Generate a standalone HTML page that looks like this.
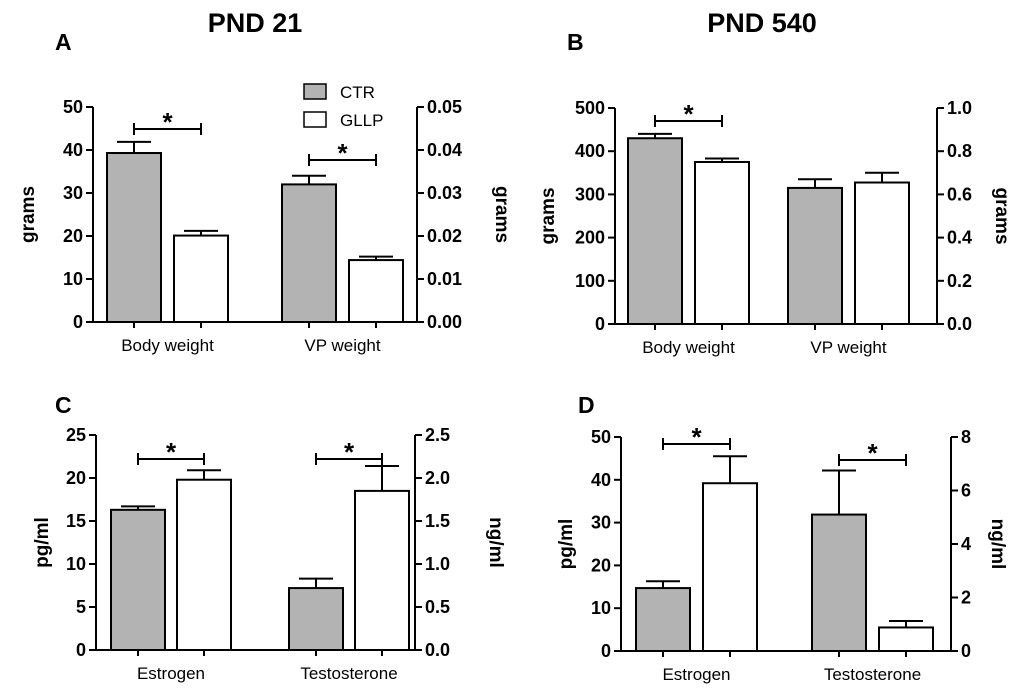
<!DOCTYPE html>
<html><head><meta charset="utf-8"><style>
body{margin:0;background:#fff}
svg{display:block;font-family:"Liberation Sans",Arial,sans-serif}
</style></head><body>
<svg id="fig" width="1020" height="691" viewBox="0 0 1020 691" xmlns="http://www.w3.org/2000/svg">
<text x="255" y="32" font-size="27" font-weight="bold" text-anchor="middle">PND 21</text>
<text x="762" y="32" font-size="27" font-weight="bold" text-anchor="middle">PND 540</text>
<g>
<rect x="304" y="84" width="22" height="15" fill="#b3b3b3" stroke="#000" stroke-width="1.5"/>
<text x="340" y="98" font-size="17">CTR</text>
<rect x="304" y="112" width="22" height="15" fill="#fff" stroke="#000" stroke-width="1.5"/>
<text x="340" y="126" font-size="17">GLLP</text>
</g>
</svg>
<script>
// Panel A
const aCats=["Body weight","VP weight"];
const aCtr=[39.3,0.032];const aCtrErr=[2.6,0.002];
const aGllp=[20.1,0.0144];const aGllpErr=[1.1,0.0008];
const aLeftTicks=["0","10","20","30","40","50"];const aRightTicks=["0.00","0.01","0.02","0.03","0.04","0.05"];
// Panel B
const bCats=["Body weight","VP weight"];
const bCtr=[430,0.63];const bCtrErr=[10,0.04];
const bGllp=[375,0.655];const bGllpErr=[8,0.045];
const bLeftTicks=["0","100","200","300","400","500"];const bRightTicks=["0.0","0.2","0.4","0.6","0.8","1.0"];
// Panel C
const cCats=["Estrogen","Testosterone"];
const cCtr=[16.3,0.72];const cCtrErr=[0.4,0.11];
const cGllp=[19.8,1.85];const cGllpErr=[1.1,0.29];
const cLeftTicks=["0","5","10","15","20","25"];const cRightTicks=["0.0","0.5","1.0","1.5","2.0","2.5"];
// Panel D
const dCats=["Estrogen","Testosterone"];
const dCtr=[14.7,5.1];const dCtrErr=[1.6,1.65];
const dGllp=[39.2,0.88];const dGllpErr=[6.3,0.24];
const dLeftTicks=["0","10","20","30","40","50"];const dRightTicks=["0","2","4","6","8"];

const NS="http://www.w3.org/2000/svg";
const svg=document.getElementById('fig');
function el(tag,attrs,parent){const e=document.createElementNS(NS,tag);for(const k in attrs)e.setAttribute(k,attrs[k]);(parent||svg).appendChild(e);return e;}

function panel(p){
  const g=el('g',{});
  
  
  const lmax=+p.lt[p.lt.length-1], rmax=+p.rt[p.rt.length-1];
  const yL=v=>p.y0-(v/lmax)*(p.y0-p.y1);
  const yR=v=>p.y0-(v/rmax)*(p.y0-p.y1);
  const sw=2, cap=17;
  const L=el('text',{x:p.lx,y:p.ly,'font-size':23,'font-weight':'bold'},g);L.textContent=p.id.toUpperCase();
  const groups=[[p.ctr,p.ctrE,'#b3b3b3'],[p.gl,p.glE,'#fff']];
  for(let c=0;c<2;c++){
    const ys=c===0?yL:yR;
    for(let s=0;s<2;s++){
      const v=groups[s][0][c],e=groups[s][1][c];
      const x=p.bx[c]+s*p.gap, cx=x+p.bw/2;
      const eb=el('line',{x1:cx,x2:cx,y1:ys(v),y2:ys(v+e),stroke:'#000','stroke-width':sw},g);
      
      
      el('line',{x1:cx-cap,x2:cx+cap,y1:ys(v+e),y2:ys(v+e),stroke:'#000','stroke-width':sw},g);
      const r=el('rect',{x:x,y:ys(v),width:p.bw,height:p.y0-ys(v),fill:groups[s][2],stroke:'#000','stroke-width':sw},g);
      
      
    }
    const tc=p.bx[c]+p.bw/2, tc2=tc+p.gap;
    el('line',{x1:tc,x2:tc,y1:p.y0,y2:p.y0+6,stroke:'#000','stroke-width':sw},g);
    el('line',{x1:tc2,x2:tc2,y1:p.y0,y2:p.y0+6,stroke:'#000','stroke-width':sw},g);
    const t=el('text',{x:(tc+tc2)/2,y:p.y0+29,'font-size':17,'text-anchor':'middle'},g);
    t.textContent=p.cats[c];
    
    
    if(p.sig[c]!==null){
      const by=p.sig[c];
      el('line',{x1:tc,x2:tc2,y1:by,y2:by,stroke:'#000','stroke-width':sw},g);
      el('line',{x1:tc,x2:tc,y1:by-6,y2:by+6,stroke:'#000','stroke-width':sw},g);
      el('line',{x1:tc2,x2:tc2,y1:by-6,y2:by+6,stroke:'#000','stroke-width':sw},g);
      const st=el('text',{x:(tc+tc2)/2,y:by+2,'font-size':26,'font-weight':'bold','text-anchor':'middle'},g);st.textContent='*';
    }
  }
  el('line',{x1:p.ax,x2:p.rx,y1:p.y0,y2:p.y0,stroke:'#000','stroke-width':sw},g);
  el('line',{x1:p.ax,x2:p.ax,y1:p.y0,y2:p.y1,stroke:'#000','stroke-width':sw},g);
  el('line',{x1:p.rx,x2:p.rx,y1:p.y0,y2:p.y1,stroke:'#000','stroke-width':sw},g);
  p.lt.forEach(t=>{const y=yL(+t);el('line',{x1:p.ax-7,x2:p.ax,y1:y,y2:y,stroke:'#000','stroke-width':sw},g);
    const tx=el('text',{x:p.ax-10,y:y+6,'font-size':18,'font-weight':'bold','text-anchor':'end'},g);tx.textContent=t;});
  p.rt.forEach(t=>{const y=yR(+t);el('line',{x1:p.rx,x2:p.rx+7,y1:y,y2:y,stroke:'#000','stroke-width':sw},g);
    const tx=el('text',{x:p.rx+10,y:y+6,'font-size':18,'font-weight':'bold'},g);tx.textContent=t;});
  const ym=(p.y0+p.y1)/2;
  const lt=el('text',{x:0,y:0,'font-size':19,'font-weight':'bold','text-anchor':'middle',transform:`translate(${p.ltx},${ym}) rotate(-90)`},g);lt.textContent=p.ltitle;
  
  const rt=el('text',{x:0,y:0,'font-size':19,'font-weight':'bold','text-anchor':'middle',transform:`translate(${p.rtx},${ym}) rotate(90)`},g);rt.textContent=p.rtitle;
  
}
panel({id:'a',lx:55,ly:50,ax:93,rx:417,y0:322,y1:107,bx:[107,282],bw:54,gap:67,cats:aCats,ctr:aCtr,ctrE:aCtrErr,gl:aGllp,glE:aGllpErr,lt:aLeftTicks,rt:aRightTicks,sig:[129,160],ltitle:'grams',rtitle:'grams',ltx:34,rtx:496});
panel({id:'b',lx:567,ly:50,ax:615,rx:937,y0:324,y1:108,bx:[628,788],bw:54,gap:67,cats:bCats,ctr:bCtr,ctrE:bCtrErr,gl:bGllp,glE:bGllpErr,lt:bLeftTicks,rt:bRightTicks,sig:[121,null],ltitle:'grams',rtitle:'grams',ltx:554,rtx:996});
panel({id:'c',lx:55,ly:413,ax:96,rx:415,y0:650,y1:435,bx:[111,289],bw:54,gap:66,cats:cCats,ctr:cCtr,ctrE:cCtrErr,gl:cGllp,glE:cGllpErr,lt:cLeftTicks,rt:cRightTicks,sig:[459,459],ltitle:'pg/ml',rtitle:'ng/ml',ltx:48,rtx:490});
panel({id:'d',lx:578,ly:413,ax:621,rx:951,y0:651,y1:437,bx:[636,812],bw:54,gap:67,cats:dCats,ctr:dCtr,ctrE:dCtrErr,gl:dGllp,glE:dGllpErr,lt:dLeftTicks,rt:dRightTicks,sig:[444,460],ltitle:'pg/ml',rtitle:'ng/ml',ltx:572,rtx:992});
</script>
</body></html>
